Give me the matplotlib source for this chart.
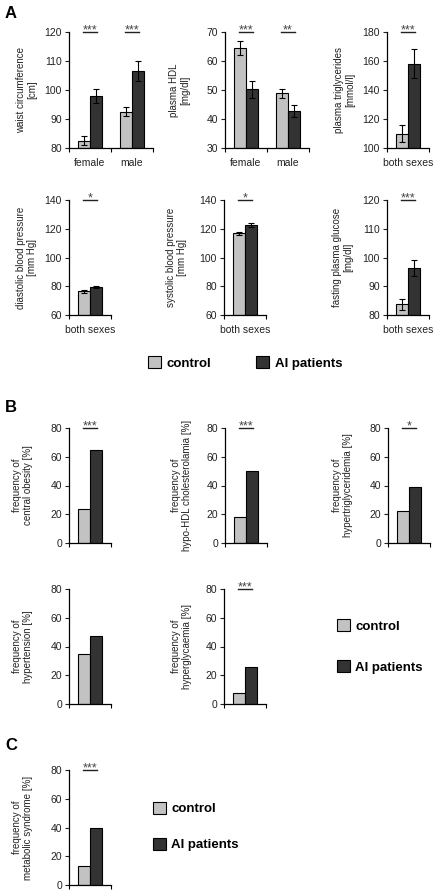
import numpy as np
import matplotlib.pyplot as plt
from matplotlib.patches import Patch

plt.rcParams['font.family'] = ['Liberation Sans', 'DejaVu Sans']
plt.rcParams['font.size'] = 7.5

# --- data ---
two_sexes = ['female', 'male']
both = ['both sexes']

waist_ctrl = [82.5, 92.5]
waist_ctrl_err = [1.5, 1.5]
waist_ai = [98.0, 106.5]
waist_ai_err = [2.5, 3.5]
waist_sig = ['***', '***']

hdl_ctrl = [64.5, 48.8]
hdl_ctrl_err = [2.5, 1.5]
hdl_ai = [50.2, 42.8]
hdl_ai_err = [3.0, 2.0]
hdl_sig = ['***', '**']

trig_ctrl = [110.0]
trig_ctrl_err = [6.0]
trig_ai = [158.0]
trig_ai_err = [10.0]

dia_ctrl = [76.5]
dia_ctrl_err = [1.0]
dia_ai = [79.5]
dia_ai_err = [0.8]

sys_ctrl = [117.0]
sys_ctrl_err = [1.0]
sys_ai = [122.5]
sys_ai_err = [1.5]

glu_ctrl = [83.7]
glu_ctrl_err = [1.8]
glu_ai = [96.2]
glu_ai_err = [2.8]

# frequencies [%] : control, AI patients
obesity = [24, 65]
hypo_hdl = [18, 50]
hypertrig = [22, 39]
hypertension = [35, 47]
hyperglyc = [8, 26]
metsyn = [13, 40]

light = '#c2c2c2'
dark = '#333333'

W, H = 438, 893
fig = plt.figure(figsize=(W / 100, H / 100), dpi=100)


def make_axes(x0, top, w, bottom):
    return fig.add_axes([x0 / W, 1 - bottom / H, w / W, (bottom - top) / H])


def bar_panel(ax, cats, ctrl, ai, ylim, step, ylabel, label_x, sig,
              ctrl_err=None, ai_err=None):
    n = len(cats)
    x = np.arange(n)
    y0 = ylim[0]
    ax.bar(x - 0.145, np.array(ctrl) - y0, 0.29, bottom=y0, color=light,
           edgecolor='black', linewidth=0.8)
    ax.bar(x + 0.145, np.array(ai) - y0, 0.29, bottom=y0, color=dark,
           edgecolor='black', linewidth=0.8)
    if ctrl_err is not None:
        for xs, v, e in [(x - 0.145, ctrl, ctrl_err), (x + 0.145, ai, ai_err)]:
            ax.errorbar(xs, v, yerr=e, fmt='none', ecolor='black',
                        elinewidth=0.8, capsize=2.5, capthick=0.8)
    for i, s in enumerate(sig):
        if not s:
            continue
        ax.plot([i - 0.17, i + 0.17], [ylim[1], ylim[1]], color='#222222',
                lw=1, clip_on=False)
        ax.annotate(s, (i, ylim[1]), xytext=(0, -1.2), textcoords='offset points',
                    ha='center', va='baseline', fontsize=9, color='#444444')
    ax.set_ylim(ylim)
    ax.set_yticks(np.arange(ylim[0], ylim[1] + 1, step))
    ax.set_xlim(-0.5, n - 0.5)
    ax.set_xticks(x)
    ax.set_xticklabels(cats)
    ax.set_xticks(np.arange(n + 1) - 0.5, minor=True)
    ax.tick_params(axis='x', which='major', length=0, pad=7, colors='#222222')
    ax.tick_params(axis='x', which='minor', length=3, direction='out', width=0.8)
    ax.tick_params(axis='y', length=3, direction='out', width=0.8, pad=2,
                   colors='#222222')
    for s in ['top', 'right']:
        ax.spines[s].set_visible(False)
    for s in ['left', 'bottom']:
        ax.spines[s].set_linewidth(0.9)
    ax.set_ylabel(ylabel, fontsize=7, color='#222222', linespacing=1.15)
    pos = ax.get_position()
    ax.yaxis.set_label_coords((label_x / W - pos.x0) / pos.width, 0.5)


# --- panel A ---
ax = make_axes(69, 32, 84, 148)
bar_panel(ax, two_sexes, waist_ctrl, waist_ai, (80, 120), 10,
          'waist circumference\n[cm]', 37, waist_sig, waist_ctrl_err, waist_ai_err)
ax = make_axes(225, 32, 84, 148)
bar_panel(ax, two_sexes, hdl_ctrl, hdl_ai, (30, 70), 10,
          'plasma HDL\n[mg/dl]', 190, hdl_sig, hdl_ctrl_err, hdl_ai_err)
ax = make_axes(387, 32, 42, 148)
bar_panel(ax, both, trig_ctrl, trig_ai, (100, 180), 20,
          'plasma triglycerides\n[mmol/l]', 355, ['***'], trig_ctrl_err, trig_ai_err)

ax = make_axes(69, 200, 42, 315)
bar_panel(ax, both, dia_ctrl, dia_ai, (60, 140), 20,
          'diastolic blood pressure\n[mm Hg]', 37, ['*'], dia_ctrl_err, dia_ai_err)
ax = make_axes(224, 200, 42, 315)
bar_panel(ax, both, sys_ctrl, sys_ai, (60, 140), 20,
          'systolic blood pressure\n[mm Hg]', 187, ['*'], sys_ctrl_err, sys_ai_err)
ax = make_axes(387, 200, 42, 315)
bar_panel(ax, both, glu_ctrl, glu_ai, (80, 120), 10,
          'fasting plasma glucose\n[mg/dl]', 353, ['***'], glu_ctrl_err, glu_ai_err)

# --- panel B ---
ax = make_axes(69, 428, 42, 543)
bar_panel(ax, [''], obesity[:1], obesity[1:], (0, 80), 20,
          'frequency of\ncentral obesity [%]', 33, ['***'])
ax = make_axes(225, 428, 42, 543)
bar_panel(ax, [''], hypo_hdl[:1], hypo_hdl[1:], (0, 80), 20,
          'frequency of\nhypo-HDL cholesterolamia [%]', 192, ['***'])
ax = make_axes(388, 428, 42, 543)
bar_panel(ax, [''], hypertrig[:1], hypertrig[1:], (0, 80), 20,
          'frequency of\nhypertriglyceridemia [%]', 353, ['*'])
ax = make_axes(69, 589, 42, 704)
bar_panel(ax, [''], hypertension[:1], hypertension[1:], (0, 80), 20,
          'frequency of\nhypertension [%]', 33, [''])
ax = make_axes(224, 589, 42, 704)
bar_panel(ax, [''], hyperglyc[:1], hyperglyc[1:], (0, 80), 20,
          'frequency of\nhyperglycaemia [%]', 192, ['***'])

# --- panel C ---
ax = make_axes(69, 770, 42, 885)
bar_panel(ax, [''], metsyn[:1], metsyn[1:], (0, 80), 20,
          'frequency of\nmetabolic syndrome [%]', 33, ['***'])

# panel letters
for letter, y in [('A', 13), ('B', 408), ('C', 745)]:
    fig.text(5 / W, 1 - y / H, letter, fontsize=12, fontweight='bold', va='center')

# legends
handles = [Patch(facecolor=light, edgecolor='black', linewidth=0.8),
           Patch(facecolor=dark, edgecolor='black', linewidth=0.8)]
labels = ['control', 'AI patients']
leg_kw = dict(frameon=False, prop={'weight': 'bold', 'size': 9.5},
              handlelength=1.0, handleheight=1.0, handletextpad=0.4,
              borderpad=0, borderaxespad=0, loc='center left')
fig.legend(handles, labels, bbox_to_anchor=(148 / W, 1 - 363 / H), ncol=2,
           columnspacing=3.4, **leg_kw)
fig.legend(handles, labels, bbox_to_anchor=(337 / W, 1 - 646.5 / H),
           labelspacing=2.1, **leg_kw)
fig.legend(handles, labels, bbox_to_anchor=(153 / W, 1 - 826.5 / H),
           labelspacing=1.7, **leg_kw)

fig.savefig('out.png', dpi=100)
